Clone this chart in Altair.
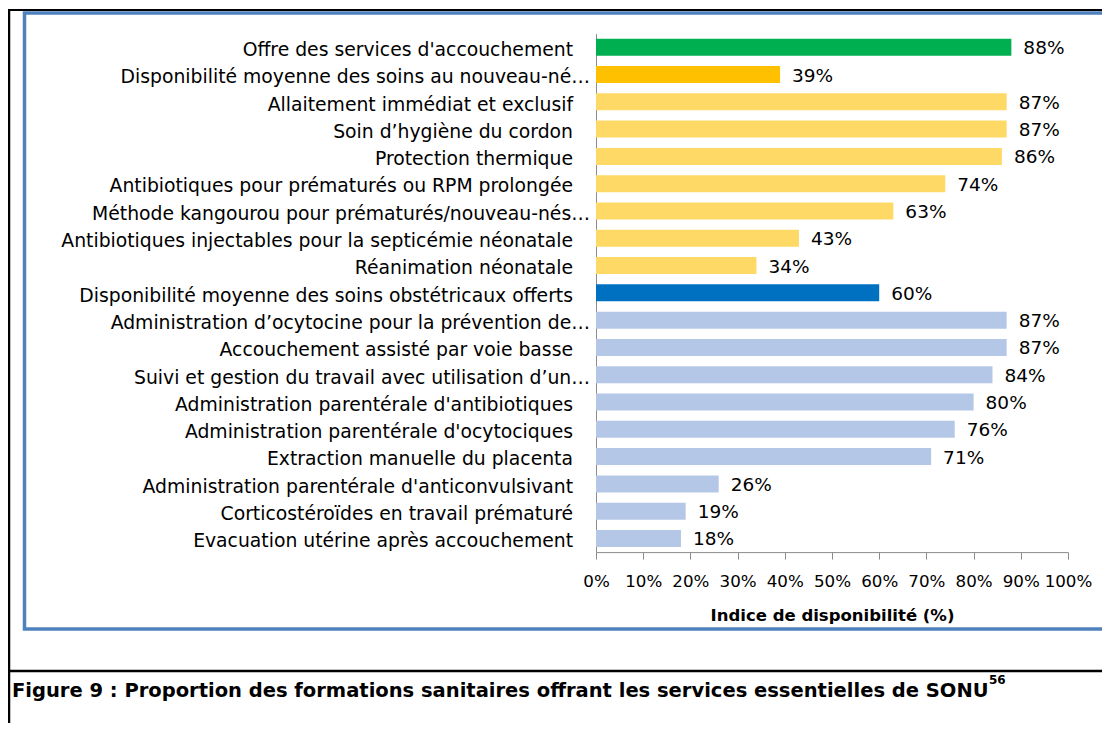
import altair as alt
import pandas as pd

labels = [
    "Offre des services d'accouchement",
    "Disponibilité moyenne des soins au nouveau-né…",
    "Allaitement immédiat et exclusif",
    "Soin d’hygiène du cordon",
    "Protection thermique",
    "Antibiotiques pour prématurés ou RPM prolongée",
    "Méthode kangourou pour prématurés/nouveau-nés…",
    "Antibiotiques injectables pour la septicémie néonatale",
    "Réanimation néonatale",
    "Disponibilité moyenne des soins obstétricaux offerts",
    "Administration d’ocytocine pour la prévention de…",
    "Accouchement assisté par voie basse",
    "Suivi et gestion du travail avec utilisation d’un…",
    "Administration parentérale d'antibiotiques",
    "Administration parentérale d'ocytociques",
    "Extraction manuelle du placenta",
    "Administration parentérale d'anticonvulsivant",
    "Corticostéroïdes en travail prématuré",
    "Evacuation utérine après accouchement",
]
values = [88, 39, 87, 87, 86, 74, 63, 43, 34, 60, 87, 87, 84, 80, 76, 71, 26, 19, 18]
groups = [
    "accouchement", "nn_moy", "nn", "nn", "nn", "nn", "nn", "nn", "nn",
    "obs_moy", "obs", "obs", "obs", "obs", "obs", "obs", "obs", "obs", "obs",
]
group_domain = ["accouchement", "nn_moy", "nn", "obs_moy", "obs"]
group_colors = ["#00B050", "#FFC000", "#FFD966", "#0070C0", "#B4C7E7"]
tick_values = [0, 10, 20, 30, 40, 50, 60, 70, 80, 90, 100]

axis_title = "Indice de disponibilité  (%)"
caption = "Figure 9 : Proportion des formations sanitaires offrant les services essentielles de SONU"
caption_sup = "56"

df = pd.DataFrame({"label": labels, "value": values, "group": groups})

W, H = 472, 518.5
PAD_L, PAD_T = 588, 25.6
PAD_R = 1094 - PAD_L - W
PAD_B = 715 - PAD_T - H

FONT = "DejaVu Sans"

y_enc = alt.Y("label:N", sort=labels, title=None,
              scale=alt.Scale(paddingInner=0.377, paddingOuter=0.1885),
              axis=alt.Axis(labels=False, ticks=False, domainColor="#8c8c8c",
                            domainWidth=1))

bars = alt.Chart(df).mark_bar(size=17).encode(
    x=alt.X("value:Q", scale=alt.Scale(domain=[0, 100]),
            axis=alt.Axis(values=tick_values, labelExpr="datum.value + '%'",
                          grid=False, tickSize=7, tickColor="#8c8c8c",
                          domainColor="#8c8c8c", labelFont=FONT, labelFontSize=16.7,
                          labelColor="#000000", labelBaseline="alphabetic",
                          labelPadding=27.7, labelOverlap=False, labelFlush=False,
                          labelBound=False,
                          title=axis_title, titleFont=FONT, titleFontSize=16.5,
                          titleFontWeight="bold", titleColor="#000000",
                          titleBaseline="alphabetic", titleY=68, titleX=W / 2,
                          titleAnchor="middle")),
    y=y_enc,
    color=alt.Color("group:N", scale=alt.Scale(domain=group_domain, range=group_colors),
                    legend=None),
)

value_text = alt.Chart(df).transform_calculate(
    txt="datum.value + '%'"
).mark_text(
    align="left", baseline="alphabetic", dx=12, dy=7, font=FONT, fontSize=18.5,
    color="#000000",
).encode(
    x="value:Q",
    y=alt.Y("label:N", sort=labels),
    text="txt:N",
)

cat_full = alt.Chart(df).transform_filter(
    "indexof(datum.label, '…') < 0"
).mark_text(
    align="right", baseline="alphabetic", dy=8.8, font=FONT, fontSize=18.8,
    color="#000000",
).encode(
    x=alt.value(-23),
    y=alt.Y("label:N", sort=labels),
    text="label:N",
)

cat_trunc = alt.Chart(df).transform_filter(
    "indexof(datum.label, '…') >= 0"
).mark_text(
    align="right", baseline="alphabetic", dy=8.8, font=FONT, fontSize=18.8,
    color="#000000",
).encode(
    x=alt.value(-6),
    y=alt.Y("label:N", sort=labels),
    text="label:N",
)

one = pd.DataFrame({"k": [0]})
deco = alt.Chart(one)

top_line = deco.mark_rule(color="#000000", strokeWidth=2).encode(
    x=alt.value(-588), x2=alt.value(520), y=alt.value(10 - 8 - PAD_T))
left_line = deco.mark_rule(color="#000000", strokeWidth=2.5).encode(
    x=alt.value(9 - 8 - PAD_L), y=alt.value(10 - 8 - PAD_T), y2=alt.value(760))
row_line = deco.mark_rule(color="#000000", strokeWidth=2.5).encode(
    x=alt.value(9 - 8 - PAD_L), x2=alt.value(520), y=alt.value(671 - 8 - PAD_T))
frame = deco.mark_rect(fill=None, stroke="#4F81BD", strokeWidth=3.5).encode(
    x=alt.value(24.5 - 8 - PAD_L), x2=alt.value(540),
    y=alt.value(13 - 8 - PAD_T), y2=alt.value(629 - 8 - PAD_T))

cap = deco.mark_text(align="left", baseline="alphabetic", font=FONT, fontSize=19.5,
                     fontWeight="bold", color="#000000", text=caption).encode(
    x=alt.value(12 - 8 - PAD_L), y=alt.value(697 - 8 - PAD_T))
cap_sup = deco.mark_text(align="left", baseline="alphabetic", font=FONT, fontSize=12,
                         fontWeight="bold", color="#000000", text=caption_sup).encode(
    x=alt.value(989 - 8 - PAD_L), y=alt.value(684 - 8 - PAD_T))

chart = alt.layer(
    frame, top_line, left_line, row_line, bars, value_text, cat_full, cat_trunc,
    cap, cap_sup
).properties(
    width=W, height=H,
    padding={"left": PAD_L, "top": PAD_T, "right": PAD_R, "bottom": PAD_B},
    autosize=alt.AutoSizeParams(type="none"),
    background="#ffffff",
).configure_view(stroke=None)

chart.save("out.html", embed_options={"renderer": "svg", "actions": False})
